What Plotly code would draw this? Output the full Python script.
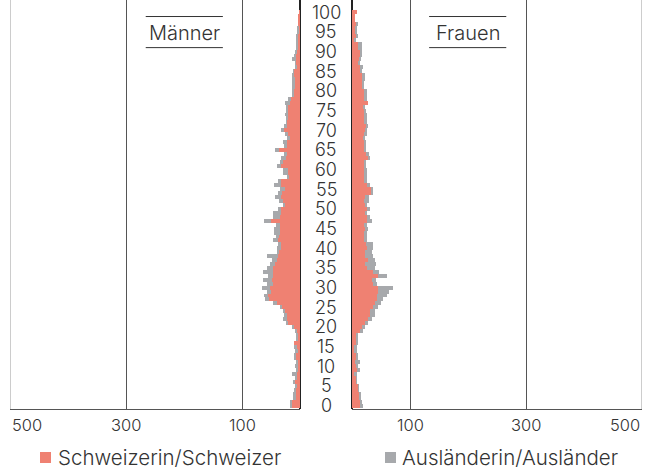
import plotly.graph_objects as go

# Population by single year of age, 0..100
ages = list(range(101))

men_swiss = [14, 14, 7, 7, 7, 6, 10, 6, 6, 5, 5, 5, 7, 7, 5, 6, 10, 5, 5, 6,
             10, 20, 23, 22, 26, 32, 40, 53, 55, 50, 52, 46, 49, 46, 46, 46, 43, 40, 38, 37,
             33, 33, 38, 36, 35, 35, 35, 50, 35, 32, 32, 26, 29, 33, 31, 26, 33, 32, 20, 21,
             21, 32, 29, 25, 23, 37, 22, 23, 17, 21, 28, 22, 23, 21, 21, 21, 21, 17, 17, 12,
             12, 10, 10, 10, 12, 11, 6, 7, 7, 7, 6, 5, 5, 5, 4, 3, 3, 3, 3, 2, 1]
men_foreign = [3, 3, 5, 5, 3, 3, 1, 2, 7, 1, 3, 2, 3, 3, 3, 4, 0, 2, 1, 3,
               4, 4, 6, 6, 3, 3, 6, 7, 7, 7, 14, 11, 15, 9, 17, 11, 9, 9, 19, 3,
               7, 5, 8, 6, 9, 9, 6, 12, 12, 15, 6, 3, 7, 10, 7, 9, 12, 6, 3, 9,
               9, 8, 5, 7, 5, 6, 5, 6, 6, 5, 5, 5, 1, 3, 5, 2, 3, 9, 3, 2,
               2, 3, 3, 3, 1, 1, 1, 1, 6, 2, 2, 1, 1, 2, 3, 1, 1, 0, 0, 0, 0]
women_swiss = [13, 13, 13, 13, 11, 11, 7, 7, 5, 8, 7, 5, 8, 8, 5, 5, 8, 8, 8, 14,
               17, 22, 28, 31, 31, 37, 40, 43, 43, 44, 45, 37, 34, 45, 37, 25, 22, 28, 22, 22,
               25, 24, 22, 22, 22, 22, 20, 25, 25, 22, 25, 22, 20, 22, 32, 34, 25, 20, 20, 22,
               22, 22, 22, 28, 24, 22, 22, 22, 20, 20, 22, 24, 21, 20, 20, 22, 20, 28, 22, 22,
               20, 18, 18, 17, 17, 14, 14, 11, 13, 14, 13, 11, 11, 5, 8, 5, 5, 7, 5, 5, 8]
women_foreign = [6, 5, 1, 1, 1, 1, 1, 1, 3, 6, 2, 9, 2, 2, 3, 3, 1, 1, 3, 5,
                 6, 6, 6, 9, 9, 8, 10, 11, 17, 20, 25, 6, 7, 15, 9, 14, 20, 12, 14, 12,
                 11, 12, 3, 3, 3, 6, 5, 9, 6, 4, 6, 4, 9, 7, 5, 3, 6, 5, 5, 3,
                 3, 2, 2, 2, 6, 2, 2, 2, 3, 6, 4, 4, 5, 5, 5, 2, 3, 0, 3, 3,
                 5, 1, 1, 6, 6, 3, 5, 3, 2, 3, 4, 6, 6, 1, 1, 4, 4, 4, 0, 0, 0]

x_ticks = [100, 300]
x_max = 500
age_labels = list(range(0, 101, 5))
series_names = ["Schweizerin/Schweizer", "Ausländerin/Ausländer"]
panel_titles = ["Männer", "Frauen"]

PINK = "#EF8172"
GREY = "#A7A9AC"
TEXT = "#333333"
FONT = "Inter"

W, H = 645, 472
PLOT_BOTTOM = 409  # pixel row of the bottom axis line
TICK_ROW = 425     # pixel row of the centre of the x tick labels


def px_x(px):
    return px / W


def px_y(py):
    return (PLOT_BOTTOM - py) / PLOT_BOTTOM


fig = go.Figure()

fig.add_trace(go.Bar(y=ages, x=men_swiss, orientation="h", marker_color=PINK,
                     marker_line_width=0, name=series_names[0], xaxis="x", yaxis="y"))
fig.add_trace(go.Bar(y=ages, x=men_foreign, orientation="h", marker_color=GREY,
                     marker_line_width=0, name=series_names[1], xaxis="x", yaxis="y"))
fig.add_trace(go.Bar(y=ages, x=women_swiss, orientation="h", marker_color=PINK,
                     marker_line_width=0, name=series_names[0], xaxis="x2", yaxis="y2"))
fig.add_trace(go.Bar(y=ages, x=women_foreign, orientation="h", marker_color=GREY,
                     marker_line_width=0, name=series_names[1], xaxis="x2", yaxis="y2"))

axis_common = dict(
    tickvals=x_ticks, showticklabels=False, ticks="", showgrid=True,
    gridcolor="#555555", gridwidth=1,
    zeroline=True, zerolinecolor="#222222", zerolinewidth=1.5,
    showline=True, linecolor="#555555", linewidth=1,
)

y_range = [-0.85, 103.1]

fig.update_layout(
    width=W, height=H,
    margin=dict(l=0, r=0, t=0, b=H - PLOT_BOTTOM),
    paper_bgcolor="white", plot_bgcolor="white",
    barmode="stack", bargap=0, showlegend=False,
    font=dict(family=FONT, color=TEXT, weight=300),
    xaxis=dict(domain=[px_x(10), px_x(300)], range=[x_max, 0], anchor="y", **axis_common),
    xaxis2=dict(domain=[px_x(352), px_x(642)], range=[0, x_max], anchor="y2", **axis_common),
    yaxis=dict(range=y_range, showticklabels=False, showgrid=False, zeroline=False, anchor="x"),
    yaxis2=dict(range=y_range, matches="y", showticklabels=False, showgrid=False,
                zeroline=False, anchor="x2"),
)

shapes = []
annotations = []

# outer frame lines at the axis maximum
for xr in ("x", "x2"):
    shapes.append(dict(type="line", xref=xr, yref="paper", x0=x_max, x1=x_max, y0=0, y1=1,
                       line=dict(color="#9A9A9A", width=1)))

# x tick labels, all on one row; the outermost ones stay inside the figure
for xr in ("x", "x2"):
    for v in x_ticks:
        annotations.append(dict(xref=xr, yref="paper", x=v, y=px_y(TICK_ROW),
                                xanchor="center", yanchor="middle", text=str(v),
                                showarrow=False, font=dict(size=16.5, color=TEXT)))
for xr, anchor in (("x", "left"), ("x2", "right")):
    annotations.append(dict(xref=xr, yref="paper", x=x_max, y=px_y(TICK_ROW), xanchor=anchor,
                            yanchor="middle", text=str(x_max), showarrow=False,
                            font=dict(size=16.5, color=TEXT)))

# age labels in the central column
for a in age_labels:
    annotations.append(dict(xref="paper", yref="y", x=px_x(326), y=a, text=str(a),
                            showarrow=False, xanchor="center", yanchor="middle",
                            font=dict(size=18, color=TEXT)))

# panel titles framed by a rule above and below
for xr, title in zip(("x", "x2"), panel_titles):
    annotations.append(dict(xref=xr, yref="y", x=200, y=94.6, text=title, showarrow=False,
                            xanchor="center", yanchor="middle", font=dict(size=20, color=TEXT)))
    for yy in (98.9, 91.0):
        shapes.append(dict(type="line", xref=xr, yref="y", x0=133, x1=266, y0=yy, y1=yy,
                           line=dict(color="#333333", width=1)))

# legend
for (sq_x, txt_x, color, name) in ((40, 56, PINK, series_names[0]),
                                   (385, 400, GREY, series_names[1])):
    shapes.append(dict(type="rect", xref="paper", yref="paper",
                       x0=px_x(sq_x), x1=px_x(sq_x + 11), y0=px_y(463), y1=px_y(452),
                       fillcolor=color, line=dict(width=0)))
    annotations.append(dict(xref="paper", yref="paper", x=px_x(txt_x), y=px_y(457.5),
                            text=name, showarrow=False, xanchor="left", yanchor="middle",
                            font=dict(size=20.5, color=TEXT)))

fig.update_layout(shapes=shapes, annotations=annotations)

fig.write_html("out.html")
